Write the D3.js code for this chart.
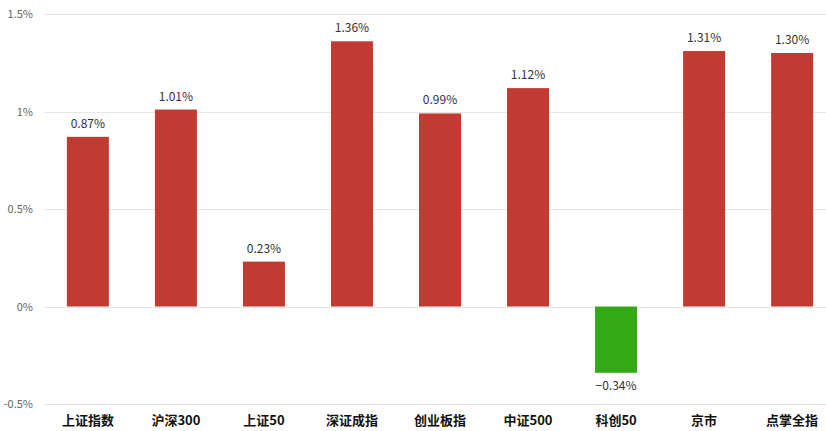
<!DOCTYPE html>
<html><head><meta charset="utf-8">
<script src="https://cdn.jsdelivr.net/npm/d3@7"></script>
<style>body{margin:0;background:#fff;}svg{display:block;}</style>
</head><body>
<svg id="c" width="826" height="431"></svg>
<script>
const categories = ["上证指数","沪深300","上证50","深证成指","创业板指","中证500","科创50","京市","点掌全指"];
const values = [0.87,1.01,0.23,1.36,0.99,1.12,-0.34,1.31,1.30];
const valueLabels = ["0.87%","1.01%","0.23%","1.36%","0.99%","1.12%","-0.34%","1.31%","1.30%"];
const yTicks = [-0.5,0,0.5,1,1.5];
const yTickLabels = ["-0.5%","0%","0.5%","1%","1.5%"];

const svg = d3.select("#c");
const x = d3.scaleBand().domain(categories).range([44,836]).paddingInner(0.523).paddingOuter(0.26);
const y = d3.scaleLinear().domain([-0.5,1.5]).range([404,14]);
const font = "'Noto Sans CJK SC','Noto Sans',sans-serif";

// gridlines
svg.append("g").selectAll("line").data(yTicks).join("line")
  .attr("x1",44).attr("x2",826)
  .attr("y1",d=>Math.round(y(d))+0.5).attr("y2",d=>Math.round(y(d))+0.5)
  .attr("stroke","#e6e6e6").attr("stroke-width",1);

// y axis labels
const yAxis = d3.axisLeft(y).tickValues(yTicks).tickSize(0).tickPadding(0)
  .tickFormat((d,i)=>yTickLabels[i]);
const ya = svg.append("g").attr("transform","translate(33,0)").call(yAxis);
ya.select(".domain").remove();
ya.selectAll("text").attr("fill","#666").style("font-family",font).style("font-size","11px");

// bars
svg.append("g").selectAll("rect").data(values).join("rect")
  .attr("x",(d,i)=>x(categories[i]))
  .attr("width",x.bandwidth())
  .attr("y",d=>y(Math.max(0,d)))
  .attr("height",d=>Math.abs(y(d)-y(0)))
  .attr("fill",d=>d>=0?"#c23b33":"#34a915");

// value labels
svg.append("g").selectAll("text").data(values).join("text")
  .attr("x",(d,i)=>x(categories[i])+x.bandwidth()/2)
  .attr("y",d=>d>=0?y(d)-9:y(d)+17)
  .attr("text-anchor","middle")
  .attr("fill","#333")
  .style("font-family",font).style("font-size","12px")
  .text((d,i)=>valueLabels[i].replace("-","−"));

// x axis category labels
const xAxis = d3.axisBottom(x).tickSize(0).tickPadding(0);
const xa = svg.append("g").attr("transform","translate(0,416)").call(xAxis);
xa.select(".domain").remove();
xa.selectAll("text").attr("fill","#111").style("font-family",font)
  .style("font-size","13px").style("font-weight","bold");
</script>
</body></html>
